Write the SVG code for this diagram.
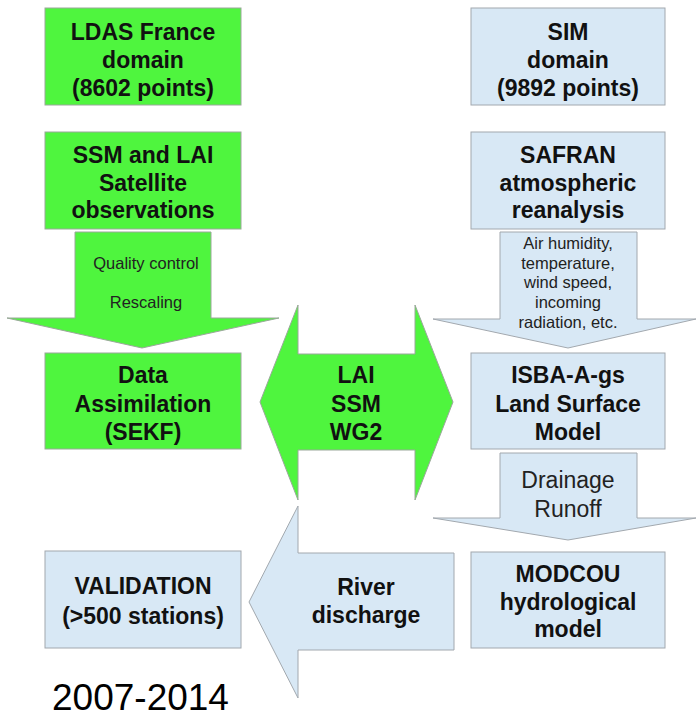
<svg xmlns="http://www.w3.org/2000/svg" width="696" height="718" viewBox="0 0 696 718">
<style>
.g{fill:#4ff53e;stroke:#9aa89a;stroke-width:1}
.b{fill:#d8e8f5;stroke:#a2a8ae;stroke-width:1}
.t{font-family:"Liberation Sans",Arial,sans-serif;font-weight:bold;font-size:23px;fill:#111;text-anchor:middle}
.s{font-family:"Liberation Sans",Arial,sans-serif;font-size:16.5px;fill:#222;text-anchor:middle}
.m{font-family:"Liberation Sans",Arial,sans-serif;font-size:23px;fill:#222;text-anchor:middle}
</style>
<rect width="696" height="718" fill="#fff"/>
<g id="connectors">
<g id="arrow-qc">
<polygon class="g" points="75,232 211,232 211,318 279,318 142,348 7,318 75,318"/>
<text class="s" x="146" y="269">Quality control</text>
<text class="s" x="146" y="308">Rescaling</text>
</g>
<g id="arrow-atm">
<polygon class="b" points="500,232 637,232 637,319 696,319 568,348 433,319 500,319"/>
<text class="s" x="568" y="249">Air humidity,</text>
<text class="s" x="568" y="269">temperature,</text>
<text class="s" x="568" y="288">wind speed,</text>
<text class="s" x="568" y="308">incoming</text>
<text class="s" x="568" y="328">radiation, etc.</text>
</g>
<g id="arrow-lai">
<polygon class="g" points="260,402 298,305 298,354 415,354 415,305 453,402 415,500 415,450 298,450 298,500"/>
<text class="t" x="356" y="383">LAI</text>
<text class="t" x="356" y="412">SSM</text>
<text class="t" x="356" y="440">WG2</text>
</g>
<g id="arrow-drain">
<polygon class="b" points="500,453 637,453 637,518 696,518 568,540 433,518 500,518"/>
<text class="m" x="568" y="488">Drainage</text>
<text class="m" x="568" y="517">Runoff</text>
</g>
<g id="arrow-river">
<polygon class="b" points="249,602 298,506 298,553 454,553 454,650 298,650 298,698"/>
<text class="t" x="366" y="595">River</text>
<text class="t" x="366" y="623">discharge</text>
</g>
</g>
<g id="ldas">
<rect class="g" x="45" y="8" width="196" height="97"/>
<text class="t" x="143" y="40">LDAS France</text>
<text class="t" x="143" y="68">domain</text>
<text class="t" x="143" y="96">(8602 points)</text>
</g>
<g id="ssm">
<rect class="g" x="45" y="132" width="196" height="97"/>
<text class="t" x="143" y="163">SSM and LAI</text>
<text class="t" x="143" y="191">Satellite</text>
<text class="t" x="143" y="218">observations</text>
</g>
<g id="da">
<rect class="g" x="45" y="353" width="196" height="96"/>
<text class="t" x="143" y="383">Data</text>
<text class="t" x="143" y="412">Assimilation</text>
<text class="t" x="143" y="440">(SEKF)</text>
</g>
<g id="sim">
<rect class="b" x="471" y="8" width="194" height="97"/>
<text class="t" x="568" y="40">SIM</text>
<text class="t" x="568" y="68">domain</text>
<text class="t" x="568" y="96">(9892 points)</text>
</g>
<g id="safran">
<rect class="b" x="471" y="132" width="194" height="97"/>
<text class="t" x="568" y="163">SAFRAN</text>
<text class="t" x="568" y="191">atmospheric</text>
<text class="t" x="568" y="218">reanalysis</text>
</g>
<g id="isba">
<rect class="b" x="471" y="353" width="194" height="96"/>
<text class="t" x="568" y="383">ISBA-A-gs</text>
<text class="t" x="568" y="412">Land Surface</text>
<text class="t" x="568" y="440">Model</text>
</g>
<g id="modcou">
<rect class="b" x="471" y="552" width="194" height="96"/>
<text class="t" x="568" y="582">MODCOU</text>
<text class="t" x="568" y="610">hydrological</text>
<text class="t" x="568" y="637">model</text>
</g>
<g id="validation">
<rect class="b" x="45" y="551" width="196" height="97"/>
<text class="t" x="143" y="594">VALIDATION</text>
<text class="t" x="143" y="624">(&gt;500 stations)</text>
</g>
<text x="52" y="710" font-family="'Liberation Sans',Arial,sans-serif" font-size="37" fill="#000">2007-2014</text>
</svg>
